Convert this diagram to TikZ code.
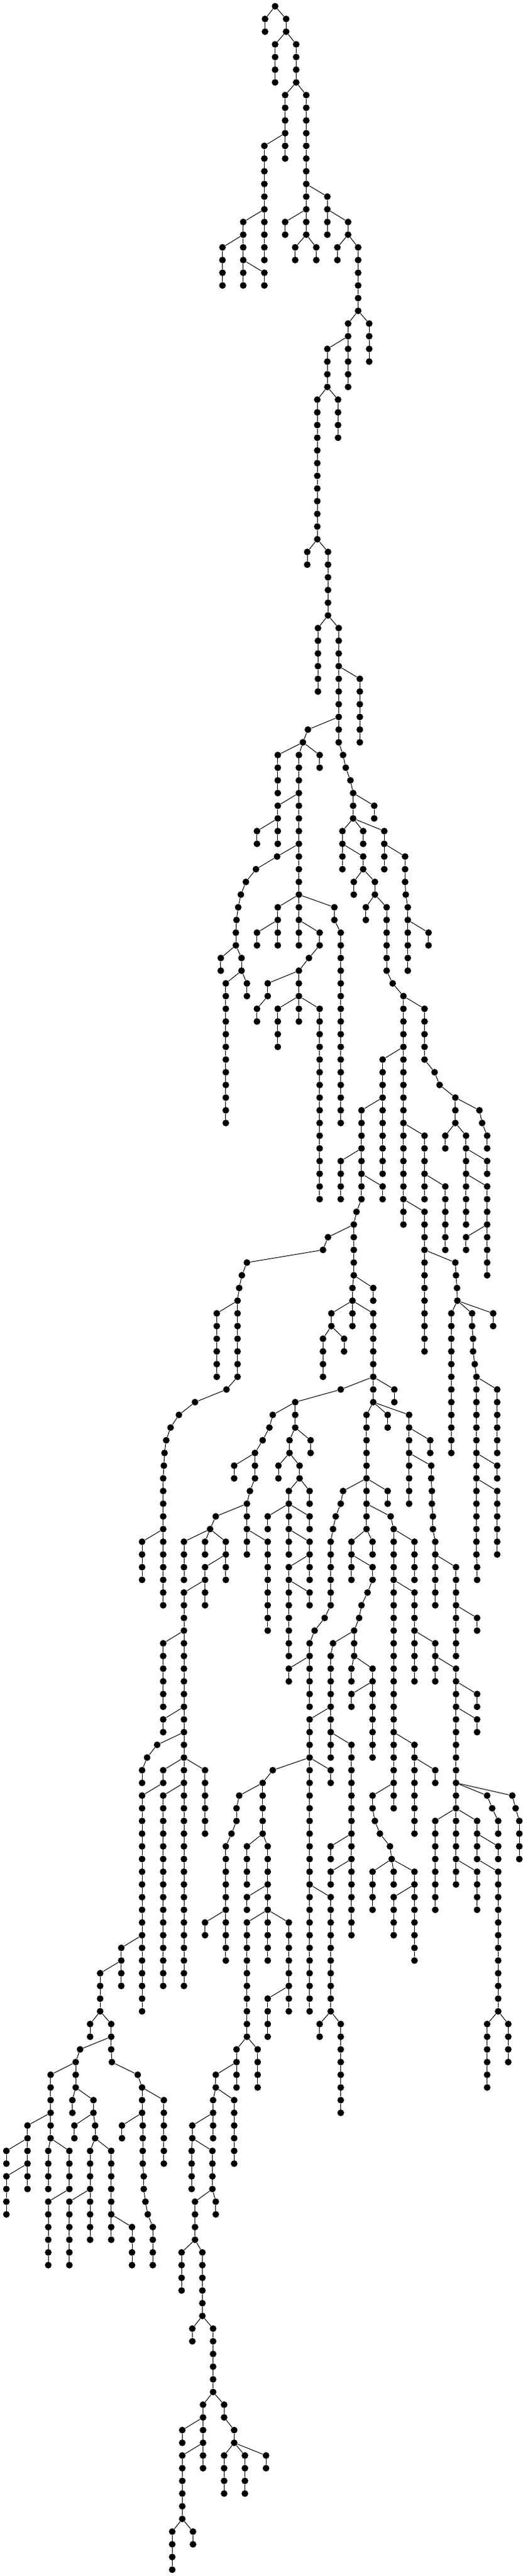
\documentclass[tikz,border=0pt]{standalone}
\newcount\rlev
\tikzset{
  dotnode/.style={circle,fill=black,inner sep=0pt,minimum size=0.214cm},
  linkline/.style={draw=black,line width=0.02cm}
}
% \B{parent x}{parent level}{x}{last level}: a branch from a parent, running straight down
\newcommand\B[4]{%
  \rlev=#2\relax
  \advance\rlev by 1\relax
  \edef\curlev{\the\rlev}%
  \node[dotnode] (n#3l\curlev) at (#3,\curlev) {};
  \path[linkline] (n#1l#2) -- (n#3l\curlev);
  \loop\ifnum\rlev<#4\relax
    \edef\prevlev{\the\rlev}%
    \advance\rlev by 1\relax
    \edef\curlev{\the\rlev}%
    \node[dotnode] (n#3l\curlev) at (#3,\curlev) {};
    \path[linkline] (n#3l\prevlev) -- (n#3l\curlev);
  \repeat
}
\begin{document}
\begin{tikzpicture}
\fill[white] (0,0) rectangle (16.72,-82.28);
\useasboundingbox (0,0) rectangle (16.72,-82.28);
\begin{scope}[x=0.010718cm,y=-0.40534cm,yshift=-0.2cm]
\node[dotnode] (n821l0) at (821,0) {};
\B{821}{0}{791}{2}
\B{821}{0}{854}{2}
\B{854}{2}{821}{6}
\B{854}{2}{884}{6}
\B{884}{6}{851}{10}
\B{884}{6}{914}{14}
\B{851}{10}{789}{16}
\B{851}{10}{851}{12}
\B{914}{14}{914}{16}
\B{914}{14}{977}{16}
\B{789}{16}{726}{18}
\B{789}{16}{789}{20}
\B{914}{16}{851}{18}
\B{914}{16}{914}{18}
\B{977}{16}{977}{18}
\B{977}{16}{1039}{18}
\B{726}{18}{664}{22}
\B{726}{18}{726}{20}
\B{726}{20}{726}{22}
\B{726}{20}{789}{22}
\B{914}{18}{881}{20}
\B{914}{18}{944}{20}
\B{1039}{18}{1007}{20}
\B{1039}{18}{1069}{24}
\B{1069}{24}{1039}{26}
\B{1069}{24}{1102}{28}
\B{1039}{26}{977}{30}
\B{1039}{26}{1039}{30}
\B{977}{30}{947}{42}
\B{977}{30}{1009}{34}
\B{947}{42}{917}{44}
\B{947}{42}{979}{48}
\B{979}{48}{949}{54}
\B{979}{48}{1011}{52}
\B{1011}{52}{1011}{56}
\B{1011}{52}{1074}{58}
\B{1011}{56}{919}{57}
\B{1011}{56}{1011}{58}
\B{919}{57}{904}{58}
\B{904}{58}{829}{62}
\B{904}{58}{892}{62}
\B{904}{58}{954}{60}
\B{892}{62}{829}{64}
\B{892}{62}{892}{66}
\B{829}{64}{767}{66}
\B{829}{64}{829}{66}
\B{892}{66}{827}{67}
\B{892}{66}{892}{70}
\B{1011}{58}{1024}{59}
\B{1024}{59}{1032}{60}
\B{1032}{60}{1046}{61}
\B{1046}{61}{1054}{62}
\B{1054}{62}{1054}{64}
\B{1054}{62}{1117}{64}
\B{1054}{64}{1022}{66}
\B{1054}{64}{1084}{66}
\B{1054}{64}{1147}{66}
\B{1022}{66}{1022}{68}
\B{1022}{66}{1084}{68}
\B{1147}{66}{1147}{68}
\B{1147}{66}{1209}{69}
\B{1084}{68}{1056}{70}
\B{1084}{68}{1119}{70}
\B{1119}{70}{1092}{72}
\B{1119}{70}{1154}{76}
\B{1154}{76}{1172}{77}
\B{1172}{77}{1204}{78}
\B{1204}{78}{1204}{82}
\B{1204}{78}{1267}{83}
\B{1204}{82}{1142}{86}
\B{1204}{82}{1204}{88}
\B{1267}{83}{1297}{84}
\B{1297}{84}{1312}{85}
\B{1312}{85}{1359}{86}
\B{1209}{69}{1211}{70}
\B{1211}{70}{1217}{72}
\B{1217}{72}{1217}{76}
\B{1217}{72}{1279}{74}
\B{827}{67}{764}{68}
\B{764}{68}{734}{69}
\B{734}{69}{719}{70}
\B{719}{70}{711}{71}
\B{711}{71}{706}{72}
\B{706}{72}{704}{74}
\B{704}{74}{659}{76}
\B{704}{74}{721}{76}
\B{721}{76}{674}{88}
\B{721}{76}{737}{78}
\B{892}{70}{829}{72}
\B{892}{70}{892}{72}
\B{892}{70}{998}{72}
\B{829}{72}{767}{74}
\B{829}{72}{829}{74}
\B{892}{72}{892}{74}
\B{892}{72}{954}{74}
\B{954}{74}{922}{75}
\B{922}{75}{892}{76}
\B{892}{76}{799}{78}
\B{892}{76}{892}{78}
\B{799}{78}{767}{80}
\B{892}{78}{829}{82}
\B{892}{78}{892}{80}
\B{892}{78}{954}{94}
\B{998}{72}{1017}{88}
\B{1142}{86}{1079}{90}
\B{1142}{86}{1142}{92}
\B{1079}{90}{1017}{94}
\B{1079}{90}{1079}{92}
\B{1079}{92}{1079}{94}
\B{1079}{92}{1142}{94}
\B{1079}{94}{1064}{95}
\B{1064}{95}{1056}{96}
\B{1056}{96}{979}{97}
\B{1056}{96}{1056}{100}
\B{979}{97}{964}{98}
\B{964}{98}{737}{99}
\B{737}{99}{722}{100}
\B{722}{100}{714}{101}
\B{714}{101}{709}{102}
\B{709}{102}{647}{108}
\B{709}{102}{709}{108}
\B{709}{108}{676}{109}
\B{676}{109}{582}{110}
\B{582}{110}{534}{111}
\B{534}{111}{509}{112}
\B{509}{112}{496}{113}
\B{496}{113}{491}{114}
\B{491}{114}{489}{115}
\B{489}{115}{487}{120}
\B{487}{120}{424}{124}
\B{487}{120}{487}{126}
\B{1204}{88}{1204}{94}
\B{1204}{88}{1267}{92}
\B{1267}{92}{1267}{94}
\B{1267}{92}{1329}{98}
\B{1204}{94}{1204}{96}
\B{1204}{94}{1267}{98}
\B{1267}{98}{1267}{106}
\B{1267}{98}{1359}{99}
\B{1359}{99}{1361}{100}
\B{1361}{100}{1364}{101}
\B{1364}{101}{1365}{102}
\B{1365}{102}{1347}{114}
\B{1365}{102}{1409}{104}
\B{1365}{102}{1472}{104}
\B{1409}{104}{1412}{106}
\B{1412}{106}{1417}{107}
\B{1417}{107}{1422}{108}
\B{1422}{108}{1422}{114}
\B{1422}{108}{1484}{114}
\B{1422}{114}{1422}{116}
\B{1422}{114}{1484}{116}
\B{1422}{116}{1422}{122}
\B{1422}{116}{1484}{122}
\B{1422}{122}{1424}{124}
\B{1359}{86}{1359}{88}
\B{1359}{86}{1431}{87}
\B{1431}{87}{1439}{88}
\B{1439}{88}{1454}{90}
\B{1359}{88}{1329}{90}
\B{1359}{88}{1391}{90}
\B{1391}{90}{1391}{92}
\B{1391}{90}{1454}{92}
\B{1391}{92}{1391}{96}
\B{1391}{92}{1454}{96}
\B{1454}{96}{1391}{98}
\B{1454}{96}{1454}{100}
\B{1056}{100}{1052}{102}
\B{1056}{100}{1114}{102}
\B{1052}{102}{989}{104}
\B{1052}{102}{1052}{104}
\B{1052}{102}{1114}{108}
\B{989}{104}{964}{108}
\B{989}{104}{1027}{106}
\B{1114}{108}{1017}{109}
\B{1114}{108}{1114}{110}
\B{1114}{108}{1177}{110}
\B{1017}{109}{881}{110}
\B{881}{110}{814}{111}
\B{881}{110}{881}{112}
\B{814}{111}{804}{112}
\B{804}{112}{784}{113}
\B{784}{113}{761}{114}
\B{761}{114}{699}{116}
\B{761}{114}{761}{116}
\B{761}{116}{746}{117}
\B{746}{117}{737}{118}
\B{881}{112}{864}{114}
\B{881}{112}{927}{114}
\B{864}{114}{831}{116}
\B{864}{114}{894}{116}
\B{894}{116}{862}{118}
\B{894}{116}{924}{118}
\B{1114}{110}{1094}{116}
\B{1114}{110}{1157}{112}
\B{1114}{110}{1221}{112}
\B{1094}{116}{1024}{117}
\B{1094}{116}{1094}{118}
\B{1094}{116}{1157}{118}
\B{1024}{117}{1017}{118}
\B{1221}{112}{1221}{114}
\B{1221}{112}{1284}{114}
\B{1221}{114}{1221}{118}
\B{1221}{114}{1287}{116}
\B{1287}{116}{1289}{118}
\B{737}{118}{644}{119}
\B{737}{118}{737}{120}
\B{644}{119}{627}{120}
\B{627}{120}{549}{124}
\B{627}{120}{612}{122}
\B{627}{120}{674}{122}
\B{674}{122}{612}{124}
\B{674}{122}{674}{124}
\B{612}{124}{549}{128}
\B{612}{124}{612}{126}
\B{549}{128}{487}{134}
\B{549}{128}{549}{134}
\B{549}{134}{487}{136}
\B{549}{134}{549}{136}
\B{737}{120}{737}{122}
\B{737}{120}{799}{128}
\B{862}{118}{799}{120}
\B{862}{118}{862}{120}
\B{862}{118}{924}{120}
\B{862}{120}{862}{122}
\B{862}{120}{924}{122}
\B{924}{122}{862}{124}
\B{924}{122}{924}{124}
\B{862}{124}{862}{130}
\B{862}{124}{924}{126}
\B{1017}{118}{1002}{119}
\B{1002}{119}{994}{120}
\B{994}{120}{987}{126}
\B{987}{126}{969}{127}
\B{969}{127}{939}{128}
\B{939}{128}{924}{130}
\B{924}{130}{862}{132}
\B{924}{130}{924}{134}
\B{1094}{118}{1094}{120}
\B{1094}{118}{1166}{119}
\B{1166}{119}{1175}{120}
\B{1175}{120}{1175}{124}
\B{1175}{120}{1237}{124}
\B{1094}{120}{1049}{122}
\B{1094}{120}{1112}{122}
\B{1049}{122}{1049}{124}
\B{1049}{122}{1112}{124}
\B{1112}{124}{1097}{125}
\B{1097}{125}{1079}{126}
\B{1079}{126}{1072}{127}
\B{1072}{127}{1057}{128}
\B{1057}{128}{994}{129}
\B{1057}{128}{1057}{130}
\B{994}{129}{987}{134}
\B{1057}{130}{1049}{132}
\B{1057}{130}{1112}{132}
\B{1112}{132}{1049}{134}
\B{1112}{132}{1112}{138}
\B{987}{134}{924}{138}
\B{987}{134}{987}{136}
\B{987}{136}{987}{138}
\B{987}{136}{1049}{144}
\B{924}{138}{814}{139}
\B{924}{138}{924}{148}
\B{924}{138}{987}{140}
\B{924}{148}{924}{158}
\B{924}{148}{987}{158}
\B{987}{158}{954}{160}
\B{987}{158}{1017}{166}
\B{814}{139}{784}{140}
\B{784}{140}{714}{141}
\B{784}{140}{784}{144}
\B{714}{141}{706}{143}
\B{706}{143}{691}{144}
\B{691}{144}{674}{150}
\B{674}{150}{612}{152}
\B{674}{150}{674}{154}
\B{784}{144}{737}{148}
\B{784}{144}{799}{148}
\B{799}{148}{737}{150}
\B{799}{148}{799}{150}
\B{799}{150}{737}{160}
\B{799}{150}{799}{154}
\B{799}{150}{862}{156}
\B{862}{156}{799}{160}
\B{862}{156}{862}{158}
\B{737}{160}{706}{162}
\B{737}{160}{769}{164}
\B{706}{162}{644}{164}
\B{706}{162}{706}{164}
\B{644}{164}{636}{166}
\B{644}{164}{699}{170}
\B{636}{166}{574}{168}
\B{636}{166}{636}{168}
\B{574}{168}{572}{172}
\B{574}{168}{634}{172}
\B{634}{172}{582}{176}
\B{634}{172}{644}{174}
\B{582}{176}{542}{180}
\B{582}{176}{604}{182}
\B{604}{182}{574}{184}
\B{604}{182}{636}{188}
\B{636}{188}{606}{190}
\B{636}{188}{669}{190}
\B{606}{190}{544}{192}
\B{606}{190}{606}{192}
\B{606}{192}{544}{198}
\B{606}{192}{606}{194}
\B{544}{198}{514}{202}
\B{544}{198}{576}{200}
\B{669}{190}{699}{192}
\B{699}{192}{669}{196}
\B{699}{192}{731}{196}
\B{699}{192}{794}{194}
\B{1175}{124}{1175}{136}
\B{1175}{124}{1237}{128}
\B{1237}{128}{1237}{132}
\B{1237}{128}{1299}{130}
\B{1299}{130}{1299}{132}
\B{1299}{130}{1361}{132}
\B{1361}{132}{1361}{134}
\B{1361}{132}{1424}{134}
\B{1361}{134}{1361}{140}
\B{1361}{134}{1424}{136}
\B{1289}{118}{1292}{120}
\B{1292}{120}{1299}{122}
\B{1299}{122}{1299}{126}
\B{1299}{122}{1361}{126}
\B{1361}{126}{1361}{130}
\B{1361}{126}{1424}{128}
\B{549}{136}{469}{137}
\B{549}{136}{549}{138}
\B{469}{137}{439}{138}
\B{439}{138}{424}{140}
\B{549}{138}{487}{140}
\B{549}{138}{549}{140}
\B{549}{138}{612}{144}
\B{487}{140}{424}{152}
\B{549}{140}{487}{156}
\B{549}{140}{549}{156}
\B{424}{152}{362}{154}
\B{424}{152}{424}{158}
\B{362}{154}{299}{158}
\B{362}{154}{362}{156}
\B{299}{158}{269}{160}
\B{299}{158}{332}{160}
\B{332}{160}{239}{161}
\B{332}{160}{332}{161}
\B{332}{161}{334}{162}
\B{334}{162}{411}{163}
\B{411}{163}{424}{164}
\B{239}{161}{226}{162}
\B{226}{162}{151}{166}
\B{226}{162}{226}{164}
\B{226}{164}{216}{166}
\B{226}{164}{279}{166}
\B{279}{166}{222}{168}
\B{279}{166}{284}{168}
\B{284}{168}{269}{172}
\B{284}{168}{332}{174}
\B{269}{172}{207}{178}
\B{269}{172}{269}{176}
\B{332}{174}{332}{176}
\B{332}{174}{394}{178}
\B{151}{166}{82}{168}
\B{151}{166}{151}{168}
\B{82}{168}{19}{170}
\B{82}{168}{82}{170}
\B{82}{170}{19}{174}
\B{82}{170}{82}{172}
\B{151}{168}{144}{172}
\B{151}{168}{207}{172}
\B{207}{172}{144}{178}
\B{424}{164}{424}{166}
\B{424}{164}{489}{170}
\B{424}{166}{364}{168}
\B{424}{166}{426}{170}
\B{426}{170}{429}{172}
\B{429}{172}{434}{173}
\B{434}{173}{441}{174}
\B{441}{174}{456}{178}
\B{1175}{136}{1175}{140}
\B{1175}{136}{1237}{138}
\B{1237}{138}{1237}{144}
\B{1237}{138}{1299}{140}
\B{1175}{140}{1112}{142}
\B{1175}{140}{1175}{142}
\B{1112}{142}{1119}{143}
\B{1119}{143}{1134}{144}
\B{1134}{144}{1164}{145}
\B{1164}{145}{1169}{146}
\B{1169}{146}{1112}{150}
\B{1169}{146}{1175}{148}
\B{1169}{146}{1237}{148}
\B{1237}{148}{1175}{152}
\B{1237}{148}{1237}{154}
\B{1361}{140}{1361}{142}
\B{1361}{140}{1454}{141}
\B{1361}{140}{1529}{141}
\B{1454}{141}{1469}{142}
\B{1469}{142}{1487}{144}
\B{1529}{141}{1539}{142}
\B{1539}{142}{1550}{146}
\B{1361}{142}{1299}{150}
\B{1361}{142}{1361}{146}
\B{1361}{142}{1424}{144}
\B{1361}{146}{1361}{148}
\B{1361}{146}{1424}{150}
\B{1424}{144}{1424}{146}
\B{1424}{144}{1487}{146}
\B{1424}{146}{1487}{158}
\B{1487}{158}{1454}{164}
\B{1487}{158}{1517}{162}
\B{1049}{144}{987}{146}
\B{1049}{144}{1049}{146}
\B{1049}{146}{987}{148}
\B{1049}{146}{1049}{152}
\end{scope}
\end{tikzpicture}
\end{document}
